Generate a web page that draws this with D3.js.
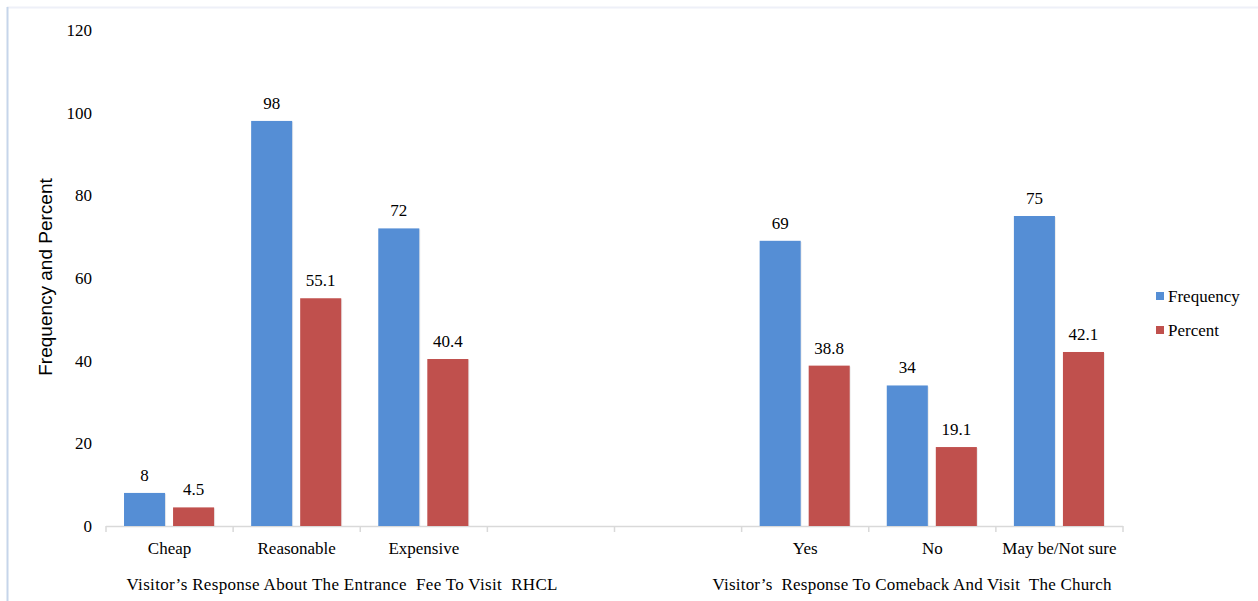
<!DOCTYPE html>
<html>
<head>
<meta charset="utf-8">
<script src="https://cdn.jsdelivr.net/npm/d3@7"></script>
<style>
  html, body { margin: 0; padding: 0; background: #fff; }
  svg { display: block; }
  .serif { font-family: "Liberation Serif", "Times New Roman", serif; }
  .sans { font-family: "Liberation Sans", Arial, sans-serif; }
</style>
</head>
<body>
<svg id="chart" width="1258" height="601"></svg>
<script>
// ---- data ----
const categories = ["Cheap", "Reasonable", "Expensive", "", "", "Yes", "No", "May be/Not sure"];
const frequency = [8, 98, 72, null, null, 69, 34, 75];
const percent = [4.5, 55.1, 40.4, null, null, 38.8, 19.1, 42.1];
const seriesNames = ["Frequency", "Percent"];
const yTicks = [0, 20, 40, 60, 80, 100, 120];
const groupLabels = [
  "Visitor\u2019s Response About The Entrance  Fee To Visit  RHCL",
  "Visitor\u2019s  Response To Comeback And Visit  The Church"
];
const yTitle = "Frequency and Percent";

// ---- styles ----
const colors = ["#558ED5", "#C0504D"];

const svg = d3.select("#chart");

// frame
svg.append("line").attr("x1", 7).attr("x2", 1258).attr("y1", 7.5).attr("y2", 7.5)
  .attr("stroke", "#EEF0F8").attr("stroke-width", 2);
svg.append("line").attr("x1", 7.5).attr("x2", 7.5).attr("y1", 7).attr("y2", 601)
  .attr("stroke", "#C6D5EA").attr("stroke-width", 2);

const plotLeft = 106, plotRight = 1123, plotTop = 30, plotBottom = 526;

const y = d3.scaleLinear().domain([0, 120]).range([plotBottom, plotTop]);
const x0 = d3.scaleBand().domain(d3.range(categories.length)).range([plotLeft, plotRight]).padding(0);
const bw = x0.bandwidth();
const x1 = d3.scaleBand().domain(seriesNames)
  .range([bw * 18 / 127, bw * 108 / 127]).paddingInner(0.163).paddingOuter(0);

// y axis labels (no line)
const yAxis = d3.axisLeft(y).tickValues(yTicks).tickSize(0).tickPadding(0);
const gy = svg.append("g").attr("transform", "translate(92,0)").call(yAxis)
  .attr("font-family", null).attr("font-size", null);
gy.select(".domain").remove();
gy.selectAll("text").attr("class", "serif").style("font-size", "17px").attr("fill", "#000");

// x axis
const xAxis = d3.axisBottom(x0).tickSize(0).tickFormat(i => categories[i]);
const gx = svg.append("g").attr("transform", `translate(0,${plotBottom})`).call(xAxis)
  .attr("font-family", null).attr("font-size", null);
gx.select(".domain").attr("stroke", "#D9D9D9").attr("stroke-width", 1.5)
  .attr("d", `M${plotLeft},0.5H${plotRight}`);
gx.selectAll("text").attr("class", "serif").style("font-size", "17px").attr("fill", "#000")
  .attr("y", 28).attr("dy", 0);
// boundary tick marks
const bounds = d3.range(categories.length + 1).map(i => i < categories.length ? x0(i) : x0(categories.length - 1) + bw);
gx.selectAll(".btick").data(bounds).join("line").attr("class", "btick")
  .attr("x1", d => d).attr("x2", d => d).attr("y1", 0).attr("y2", 6)
  .attr("stroke", "#D9D9D9").attr("stroke-width", 1.5);

// bars
const rows = categories.map((c, i) => ({ i, values: [frequency[i], percent[i]] }));
const groups = svg.append("g").selectAll("g").data(rows).join("g")
  .attr("transform", d => `translate(${x0(d.i)},0)`);

const items = groups.selectAll("g.item")
  .data(d => d.values.map((v, k) => ({ v, k, s: seriesNames[k] })).filter(e => e.v != null))
  .join("g").attr("class", "item");

items.append("rect")
  .attr("x", d => x1(d.s) + 1).attr("width", x1.bandwidth())
  .attr("y", d => y(d.v) + 1).attr("height", d => plotBottom - y(d.v) - 1)
  .attr("fill", "#000").attr("opacity", 0.08);
items.append("rect")
  .attr("x", d => x1(d.s)).attr("width", x1.bandwidth())
  .attr("y", d => y(d.v)).attr("height", d => plotBottom - y(d.v))
  .attr("fill", d => colors[d.k]);
items.append("text")
  .attr("class", "serif")
  .attr("x", d => x1(d.s) + x1.bandwidth() / 2)
  .attr("y", d => y(d.v) - 12)
  .attr("text-anchor", "middle")
  .style("font-size", "17px").attr("fill", "#000")
  .text(d => d.v);

// group labels
const groupX = [342, 912];
const groupW = [431, 399];
svg.selectAll("text.group").data(groupLabels).join("text").attr("class", "group serif")
  .attr("x", (d, i) => groupX[i] - groupW[i] / 2).attr("y", 590)
  .style("font-size", "17px").attr("fill", "#000")
  .attr("textLength", (d, i) => groupW[i]).attr("lengthAdjust", "spacing")
  .style("white-space", "pre")
  .text(d => d);

// y title
svg.append("text")
  .attr("class", "sans")
  .attr("transform", "translate(52,277) rotate(-90)")
  .attr("text-anchor", "middle")
  .style("font-size", "19px").attr("fill", "#000")
  .text(yTitle);

// legend
const legend = svg.append("g").selectAll("g").data(seriesNames).join("g")
  .attr("transform", (d, i) => `translate(1156,${292 + i * 34})`);
legend.append("rect").attr("width", 8).attr("height", 8).attr("fill", (d, i) => colors[i]);
legend.append("text").attr("class", "serif").attr("x", 12).attr("y", 4).attr("dy", "0.35em")
  .style("font-size", "17px").attr("fill", "#000")
  .text(d => d);
</script>
</body>
</html>
